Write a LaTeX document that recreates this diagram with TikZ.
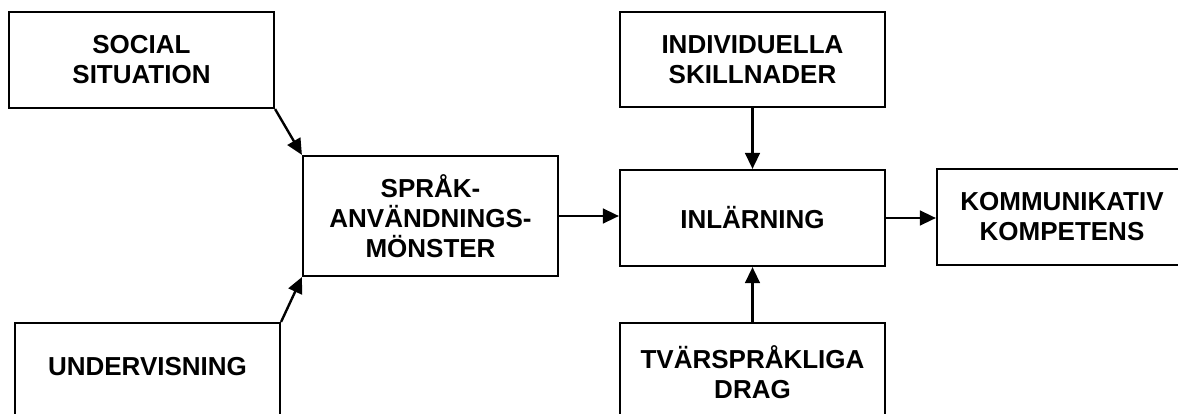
\documentclass[tikz,border=0pt]{standalone}
\usepackage{fontspec}
\setmainfont{Liberation Sans}
\usetikzlibrary{arrows.meta}
\begin{document}
\begin{tikzpicture}[x=0.75pt,y=-0.75pt,
  box/.style={draw=black,line width=1.6pt,fill=white,inner sep=0pt,
    align=center,font=\bfseries\fontsize{19.5}{22.5}\selectfont},
  lbl/.style={inner sep=0pt,align=center,font=\bfseries\fontsize{19.5}{22.5}\selectfont},
  conn/.style={line width=1.8pt,-{Triangle[length=12pt,width=11pt]}}]
\clip (0,0) rectangle (1178,414);
\fill[white] (0,0) rectangle (1178,414);
% boxes
\node[box,minimum width=265*0.75pt,minimum height=96*0.75pt] (soc) at (141.5,60) {SOCIAL\\SITUATION};
\node[box,minimum width=255*0.75pt,minimum height=120*0.75pt] (spr) at (430.5,216) {SPRÅK-\\ANVÄNDNINGS-\\MÖNSTER};
\node[box,minimum width=265*0.75pt,minimum height=137*0.75pt] (und) at (147.5,391.5) {};
\node[lbl] (undt) at (147.5,367) {UNDERVISNING};
\node[box,minimum width=265*0.75pt,minimum height=95*0.75pt] (ind) at (752.5,59.5) {INDIVIDUELLA\\SKILLNADER};
\node[box,minimum width=265*0.75pt,minimum height=96*0.75pt] (inl) at (752.5,218) {INLÄRNING};
\node[box,minimum width=265*0.75pt,minimum height=137*0.75pt] (tva) at (752.5,391.5) {};
\node[lbl] (tvat) at (752.5,372) {TVÄRSPRÅKLIGA\\DRAG};
\node[box,minimum width=250*0.75pt,minimum height=96*0.75pt] (kom) at (1062,217) {KOMMUNIKATIV\\KOMPETENS};
% connectors
\draw[conn] (soc.south east) -- (spr.north west);
\draw[conn] (und.north east) -- (spr.south west);
\draw[conn] (spr.east) -- (spr.east -| inl.west);
\draw[conn] (ind.south) -- (inl.north);
\draw[conn] (tva.north) -- (inl.south);
\draw[conn] (inl.east) -- (inl.east -| kom.west);
\end{tikzpicture}
\end{document}
